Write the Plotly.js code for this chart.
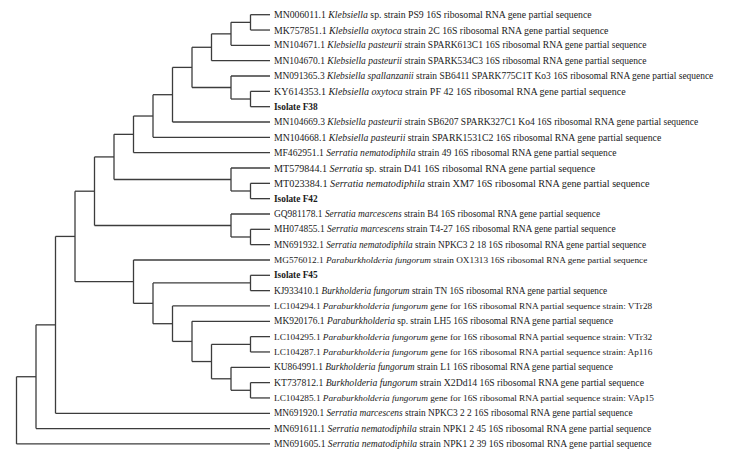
<!DOCTYPE html>
<html>
<head>
<meta charset="utf-8">
<script src="https://cdn.plot.ly/plotly-3.0.1.min.js"></script>
<style>html,body{margin:0;padding:0;background:#fff;}#chart{width:729px;height:451px;}</style>
</head>
<body>
<div id="chart"></div>
<script>
// Leaf labels (top to bottom)
const accessions = [
  "MN006011.1","MK757851.1","MN104671.1","MN104670.1","MN091365.3","KY614353.1","","MN104669.3","MN104668.1",
  "MF462951.1","MT579844.1","MT023384.1","","GQ981178.1","MH074855.1","MN691932.1","MG576012.1","","KJ933410.1",
  "LC104294.1","MK920176.1","LC104295.1","LC104287.1","KU864991.1","KT737812.1","LC104285.1","MN691920.1",
  "MN691611.1","MN691605.1"
];
const species = [
  "Klebsiella","Klebsiella oxytoca","Klebsiella pasteurii","Klebsiella pasteurii","Klebsiella spallanzanii",
  "Klebsiella oxytoca","","Klebsiella pasteurii","Klebsiella pasteurii","Serratia nematodiphila","Serratia",
  "Serratia nematodiphila","","Serratia marcescens","Serratia marcescens","Serratia nematodiphila",
  "Paraburkholderia fungorum","","Burkholderia fungorum","Paraburkholderia fungorum","Paraburkholderia",
  "Paraburkholderia fungorum","Paraburkholderia fungorum","Burkholderia fungorum","Burkholderia fungorum",
  "Paraburkholderia fungorum","Serratia marcescens","Serratia nematodiphila","Serratia nematodiphila"
];
const descriptions = [
  "sp. strain PS9 16S ribosomal RNA gene partial sequence",
  "strain 2C 16S ribosomal RNA gene partial sequence",
  "strain SPARK613C1 16S ribosomal RNA gene partial sequence",
  "strain SPARK534C3 16S ribosomal RNA gene partial sequence",
  "strain SB6411 SPARK775C1T Ko3 16S ribosomal RNA gene partial sequence",
  "strain PF 42 16S ribosomal RNA gene partial sequence",
  "Isolate F38",
  "strain SB6207 SPARK327C1 Ko4 16S ribosomal RNA gene partial sequence",
  "strain SPARK1531C2 16S ribosomal RNA gene partial sequence",
  "strain 49 16S ribosomal RNA gene partial sequence",
  "sp. strain D41 16S ribosomal RNA gene partial sequence",
  "strain XM7 16S ribosomal RNA gene partial sequence",
  "Isolate F42",
  "strain B4 16S ribosomal RNA gene partial sequence",
  "strain T4-27 16S ribosomal RNA gene partial sequence",
  "strain NPKC3 2 18 16S ribosomal RNA gene partial sequence",
  "strain OX1313 16S ribosomal RNA gene partial sequence",
  "Isolate F45",
  "strain TN 16S ribosomal RNA gene partial sequence",
  "gene for 16S ribosomal RNA partial sequence strain: VTr28",
  "sp. strain LH5 16S ribosomal RNA gene partial sequence",
  "gene for 16S ribosomal RNA partial sequence strain: VTr32",
  "gene for 16S ribosomal RNA partial sequence strain: Ap116",
  "strain L1 16S ribosomal RNA gene partial sequence",
  "strain X2Dd14 16S ribosomal RNA gene partial sequence",
  "gene for 16S ribosomal RNA partial sequence strain: VAp15",
  "strain NPKC3 2 2 16S ribosomal RNA gene partial sequence",
  "strain NPK1 2 45 16S ribosomal RNA gene partial sequence",
  "strain NPK1 2 39 16S ribosomal RNA gene partial sequence"
];
const isolates = [6, 12, 17];

// Tree topology (nested pairs of leaf indices)
const klebCore = [[[[0,1],2],3],[4,[5,6]]];
const serratiaA = [10,[11,12]];
const serratiaB = [13,[14,15]];
const burkholderia = [16,[[17,18],[19,[20,[[21,22],[23,[24,25]]]]]]];
const topology = [[[[[[[[[klebCore,7],8],9],serratiaA],serratiaB],burkholderia],26],27],28];

// Style: per-label font size (the source figure's text is set with uneven spacing)
const labelFontSize = [
  9.75, 9.8, 9.5, 9.5, 9.45, 10, 9.3, 9.5, 9.75, 9.6,
  10.1, 10.2, 9.3, 9.42, 9.46, 9.3, 9.25, 9.3, 9.3, 9.25,
  9.43, 9.25, 9.25, 9.43, 9.7, 9.25, 9.35, 9.6, 9.6
];

// Layout of the cladogram: x = depth level (leaves aligned), y = leaf order
const lx = [], ly = [];
function layoutNode(n) {
  if (typeof n === 'number') return {y: n, h: 0};
  const kids = n.map(layoutNode);
  const h = Math.max(...kids.map(k => k.h)) + 1;
  return {kids, h, y: (kids[0].y + kids[kids.length-1].y) / 2};
}
const root = layoutNode(topology);
const maxH = root.h;
function drawNode(node) {
  if (!node.kids) return;
  const nx = maxH - node.h;
  lx.push(nx, nx, null);
  ly.push(node.kids[0].y, node.kids[node.kids.length-1].y, null);
  node.kids.forEach(k => {
    const kx = maxH - k.h;
    lx.push(nx, kx, null);
    ly.push(k.y, k.y, null);
    drawNode(k);
  });
}
drawNode(root);

const annotations = accessions.map((acc, i) => {
  let txt;
  if (isolates.includes(i)) txt = '<b>' + descriptions[i] + '</b>';
  else txt = acc + ' <i>' + species[i] + '</i> ' + descriptions[i];
  return {
    x: maxH, y: i, xref: 'x', yref: 'y', text: txt, showarrow: false,
    xanchor: 'left', yanchor: 'middle', xshift: 2,
    font: {family: 'Liberation Serif', size: labelFontSize[i], color: '#1a1a1a'}
  };
});

const trace = {
  x: lx, y: ly, mode: 'lines', type: 'scatter',
  line: {color: '#3c3c3c', width: 1.3}, hoverinfo: 'skip', showlegend: false
};

const sx = 19.5, sy = 15.33;
const xa = -16.5 / sx, ya = -14.7 / sy;
Plotly.newPlot('chart', [trace], {
  width: 729, height: 451,
  margin: {l: 0, r: 0, t: 0, b: 0},
  paper_bgcolor: '#fff', plot_bgcolor: '#fff',
  xaxis: {range: [xa, xa + 729 / sx], visible: false, fixedrange: true},
  yaxis: {range: [ya + 451 / sy, ya], visible: false, fixedrange: true},
  annotations: annotations,
  showlegend: false
}, {displayModeBar: false, staticPlot: true});
</script>
</body>
</html>
